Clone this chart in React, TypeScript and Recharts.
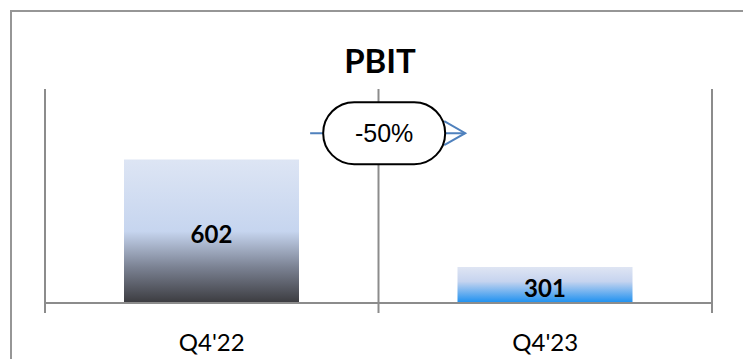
import { BarChart, Bar, XAxis, YAxis, Cell, LabelList, ReferenceLine, ReferenceDot } from "recharts";

const quarters = ["Q4'22", "Q4'23"];
const quarterPos = [0.5, 1.5];
const pbit = [602, 301];
const gradientIds = ["pbitPrev", "pbitCurr"];
const yDomain = [200, 800];
const boundaryTicks = [0, 1, 2];

const data = quarters.map((q, i) => ({ quarter: q, pos: quarterPos[i], value: pbit[i] }));
const change = Math.round(((pbit[1] - pbit[0]) / pbit[0]) * 100);

const GRID = "#8c8c8c";
const ARROW = "#4f81bd";

// category boundary lines, carried 10px below the axis like excel ticks
const BoundaryLine = (props: any) => {
  const top = Math.min(props.y1, props.y2);
  const bottom = Math.max(props.y1, props.y2);
  return <line x1={props.x1} x2={props.x1} y1={top} y2={bottom + 10} stroke={GRID} strokeWidth={2} />;
};

const ChangeArrow = (props: any) => {
  const { x1, x2, y1 } = props;
  return (
    <g>
      <line x1={x1} x2={x2} y1={y1} y2={y1} stroke={ARROW} strokeWidth={2} />
      <polyline
        points={`${x2 - 21},${y1 - 12} ${x2},${y1} ${x2 - 21},${y1 + 12}`}
        fill="none"
        stroke={ARROW}
        strokeWidth={2}
      />
    </g>
  );
};

const ChangePill = (props: any) => {
  const { cx, cy } = props;
  return (
    <g>
      <rect x={cx - 61} y={cy - 31} width={122} height={62} rx={31} fill="#fff" stroke="#000" strokeWidth={2} />
      <text
        x={cx}
        y={cy}
        textAnchor="middle"
        dominantBaseline="central"
        fontFamily="'Liberation Sans', Arial, sans-serif"
        fontSize={25}
        fill="#000"
      >
        {`${change}%`}
      </text>
    </g>
  );
};

const quarterLabel = (v: number) => quarters[quarterPos.indexOf(v)] ?? "";

export default function App() {
  return (
    <div
      style={{
        position: "absolute",
        left: 0,
        top: 0,
        width: 743,
        height: 359,
        overflow: "hidden",
        background: "#fff",
        fontFamily: "Lato, sans-serif",
      }}
    >
      <div
        style={{
          position: "absolute",
          left: 10,
          top: 10,
          width: 800,
          height: 400,
          border: "2px solid #969696",
        }}
      />
      <div
        style={{
          position: "absolute",
          left: 0,
          top: 42,
          width: 760,
          textAlign: "center",
          fontSize: 33,
          fontWeight: 700,
          lineHeight: "36px",
        }}
      >
        PBIT
      </div>
      <div style={{ position: "absolute", left: 0, top: 0 }}>
        <BarChart width={743} height={359} data={data} margin={{ top: 89, right: 31, bottom: 0, left: 45 }}>
          <defs>
            <linearGradient id="pbitPrev" x1="0" y1="0" x2="0" y2="1">
              <stop offset="0%" stopColor="#dde5f4" />
              <stop offset="50%" stopColor="#c6d5ef" />
              <stop offset="75%" stopColor="#7b8293" />
              <stop offset="100%" stopColor="#3b3b3f" />
            </linearGradient>
            <linearGradient id="pbitCurr" x1="0" y1="0" x2="0" y2="1">
              <stop offset="0%" stopColor="#dfe5f3" />
              <stop offset="40%" stopColor="#c6d4ef" />
              <stop offset="100%" stopColor="#1a8ff0" />
            </linearGradient>
          </defs>
          <XAxis
            dataKey="pos"
            type="number"
            domain={[0, 2]}
            ticks={quarterPos}
            tickFormatter={quarterLabel}
            height={56}
            axisLine={{ stroke: GRID, strokeWidth: 2 }}
            tickLine={false}
            tick={{ fontSize: 24, fill: "#000", fontFamily: "Lato, sans-serif" }}
            dy={23}
          />
          <YAxis domain={yDomain} hide allowDataOverflow />
          {boundaryTicks.map((t) => (
            <ReferenceLine key={t} x={t} ifOverflow="visible" shape={<BoundaryLine />} />
          ))}
          <Bar dataKey="value" barSize={175} isAnimationActive={false}>
            {data.map((d, i) => (
              <Cell key={d.quarter} fill={`url(#${gradientIds[i]})`} />
            ))}
            <LabelList
              dataKey="value"
              position="center"
              fill="#000"
              fontSize={24}
              fontWeight={700}
              fontFamily="Lato, sans-serif"
              dy={3}
            />
          </Bar>
          <ReferenceLine
            segment={[
              { x: 0.795, y: 676 },
              { x: 1.26, y: 676 },
            ]}
            ifOverflow="visible"
            shape={<ChangeArrow />}
          />
          <ReferenceDot x={1.017} y={676} ifOverflow="visible" shape={<ChangePill />} />
        </BarChart>
      </div>
    </div>
  );
}
